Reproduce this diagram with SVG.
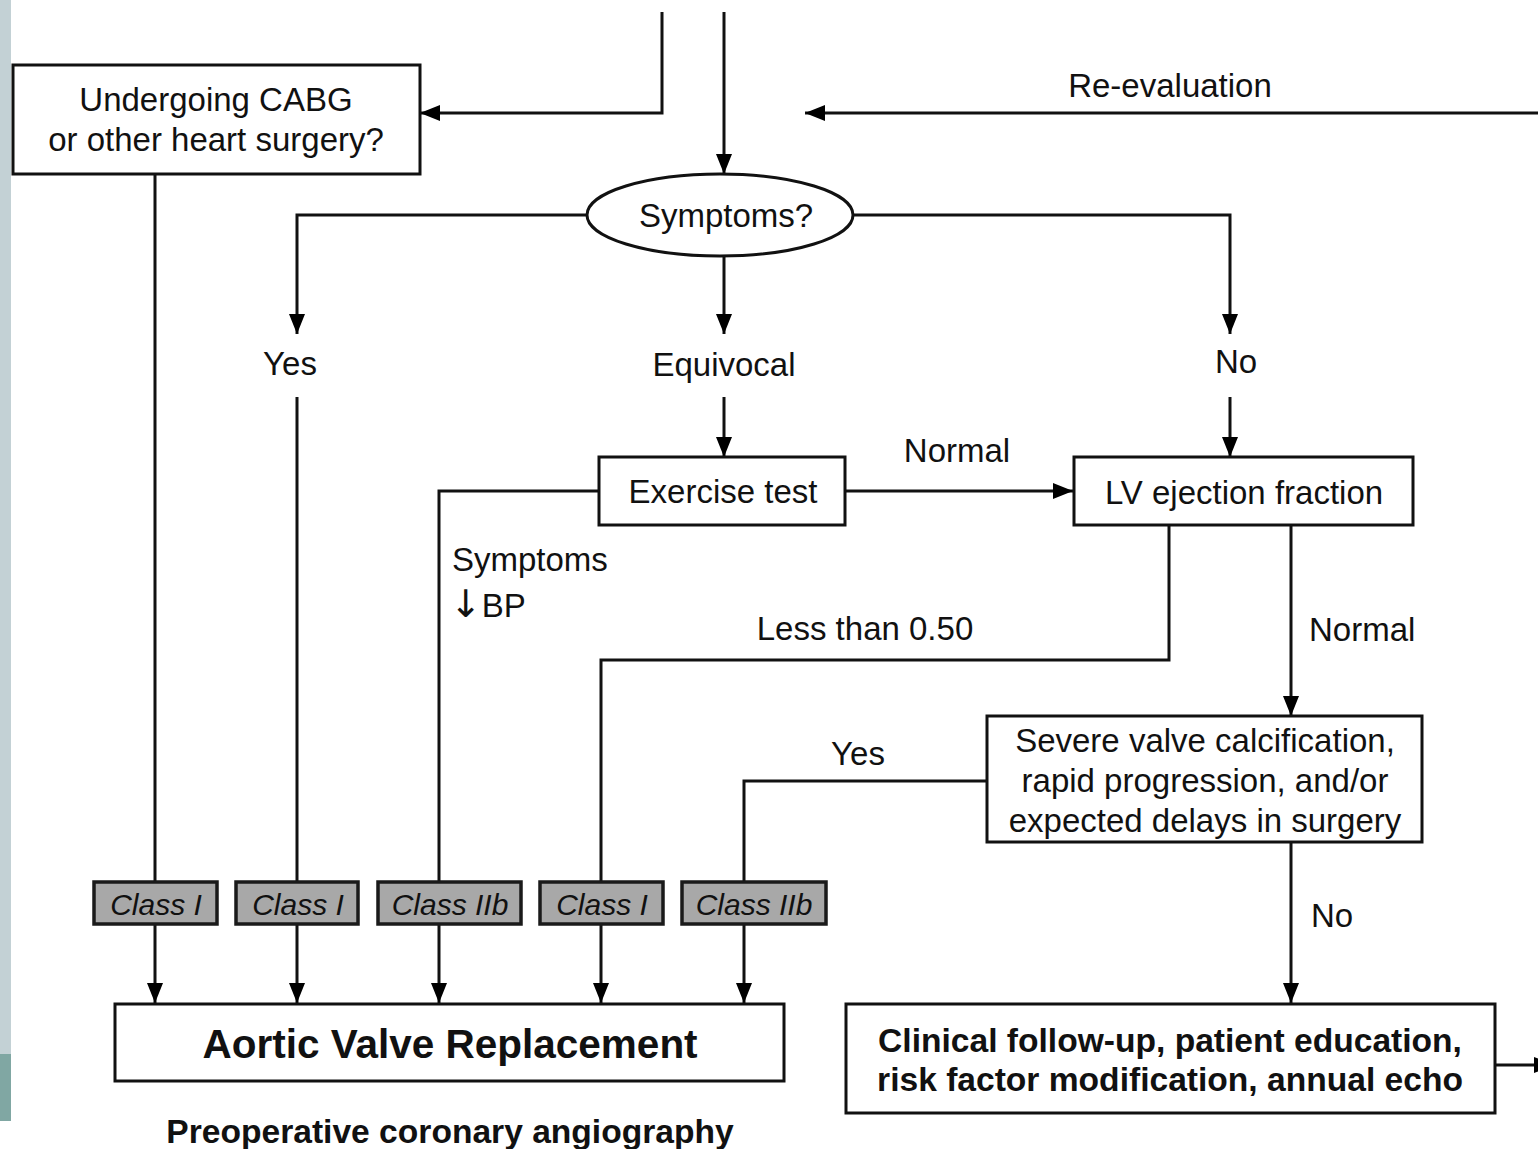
<svg xmlns="http://www.w3.org/2000/svg" width="1538" height="1149" viewBox="0 0 1538 1149">
<defs>
<marker id="ah" markerUnits="userSpaceOnUse" markerWidth="22" markerHeight="16" refX="20" refY="8" orient="auto">
<path d="M0,0 L20,8 L0,16 z" fill="#000"/>
</marker>
<style>
.t{font-family:"Liberation Sans","DejaVu Sans",Arial,sans-serif;font-size:33px;fill:#111;}
.c{text-anchor:middle;}
.b{font-weight:bold;font-size:33.6px;}
.i{font-style:italic;font-size:30px;}
.box{fill:#fff;stroke:#111;stroke-width:3;}
.cls{fill:#a8a8a8;stroke:#1a1a1a;stroke-width:3.5;}
.ln{fill:none;stroke:#111;stroke-width:3;}
.ar{marker-end:url(#ah);}
</style>
</defs>
<rect x="0" y="0" width="1538" height="1149" fill="#fff"/>
<rect x="0" y="0" width="11" height="1054" fill="#c3d1d5"/>
<rect x="0" y="1054" width="11" height="67" fill="#80a7a3"/>

<g id="connectors">
<path class="ln ar" d="M662,12 V113 H420"/>
<path class="ln ar" d="M724,12 V174"/>
<path class="ln ar" d="M1538,113 H805"/>
<path class="ln ar" d="M587,215 H297 V334"/>
<path class="ln ar" d="M724,256 V334"/>
<path class="ln ar" d="M853,215 H1230 V334"/>
<path class="ln ar" d="M155,174 V1003"/>
<path class="ln ar" d="M297,397 V1003"/>
<path class="ln ar" d="M724,397 V457"/>
<path class="ln ar" d="M599,491 H439 V1003"/>
<path class="ln ar" d="M845,491 H1073"/>
<path class="ln ar" d="M1230,397 V457"/>
<path class="ln ar" d="M1169,525 V660 H601 V1003"/>
<path class="ln ar" d="M1291,525 V716"/>
<path class="ln ar" d="M987,781 H744 V1003"/>
<path class="ln ar" d="M1291,842 V1003"/>
<path class="ln" d="M1495,1065 H1536"/>
<path d="M1534,1057 L1554,1065 L1534,1073 z" fill="#000"/>
<text class="t c" x="1170" y="97">Re-evaluation</text>
<text class="t c" x="290" y="375">Yes</text>
<text class="t c" x="724" y="376">Equivocal</text>
<text class="t c" x="1236" y="373">No</text>
<text class="t c" x="957" y="462">Normal</text>
<text class="t" x="452" y="571">Symptoms</text>
<text class="t" x="450" y="617"><tspan style="font-family:'DejaVu Sans',sans-serif;font-size:38px">↓</tspan>BP</text>
<text class="t c" x="865" y="640">Less than 0.50</text>
<text class="t" x="1309" y="641">Normal</text>
<text class="t c" x="858" y="765">Yes</text>
<text class="t" x="1311" y="927">No</text>
</g>

<g id="cabg">
<rect class="box" x="13" y="65" width="407" height="109"/>
<text class="t c" x="216" y="111">Undergoing CABG</text>
<text class="t c" x="216" y="151">or other heart surgery?</text>
</g>

<g id="symptoms">
<ellipse class="box" cx="720" cy="215" rx="133" ry="41"/>
<text class="t c" x="726" y="227">Symptoms?</text>
</g>

<g id="exercise">
<rect class="box" x="599" y="457" width="246" height="68"/>
<text class="t c" x="723" y="503">Exercise test</text>
</g>

<g id="lvef">
<rect class="box" x="1074" y="457" width="339" height="68"/>
<text class="t c" x="1244" y="504">LV ejection fraction</text>
</g>

<g id="severe">
<rect class="box" x="987" y="716" width="435" height="126"/>
<text class="t c" x="1205" y="752">Severe valve calcification,</text>
<text class="t c" x="1205" y="792">rapid progression, and/or</text>
<text class="t c" x="1205" y="832">expected delays in surgery</text>
</g>

<g id="class1">
<rect class="cls" x="94" y="882" width="123" height="42"/>
<text class="t c i" x="156" y="915">Class I</text>
</g>
<g id="class2">
<rect class="cls" x="236" y="882" width="122" height="42"/>
<text class="t c i" x="298" y="915">Class I</text>
</g>
<g id="class3">
<rect class="cls" x="378" y="882" width="143" height="42"/>
<text class="t c i" x="450" y="915">Class IIb</text>
</g>
<g id="class4">
<rect class="cls" x="540" y="882" width="123" height="42"/>
<text class="t c i" x="602" y="915">Class I</text>
</g>
<g id="class5">
<rect class="cls" x="682" y="882" width="144" height="42"/>
<text class="t c i" x="754" y="915">Class IIb</text>
</g>

<g id="avr">
<rect class="box" x="115" y="1004" width="669" height="77"/>
<text class="t c b" x="450" y="1058" style="font-size:40.5px">Aortic Valve Replacement</text>
</g>

<g id="followup">
<rect class="box" x="846" y="1004" width="649" height="109"/>
<text class="t c b" x="1170" y="1052">Clinical follow-up, patient education,</text>
<text class="t c b" x="1170" y="1091">risk factor modification, annual echo</text>
</g>

<g id="angio">
<text class="t c b" x="450" y="1143">Preoperative coronary angiography</text>
</g>
</svg>
